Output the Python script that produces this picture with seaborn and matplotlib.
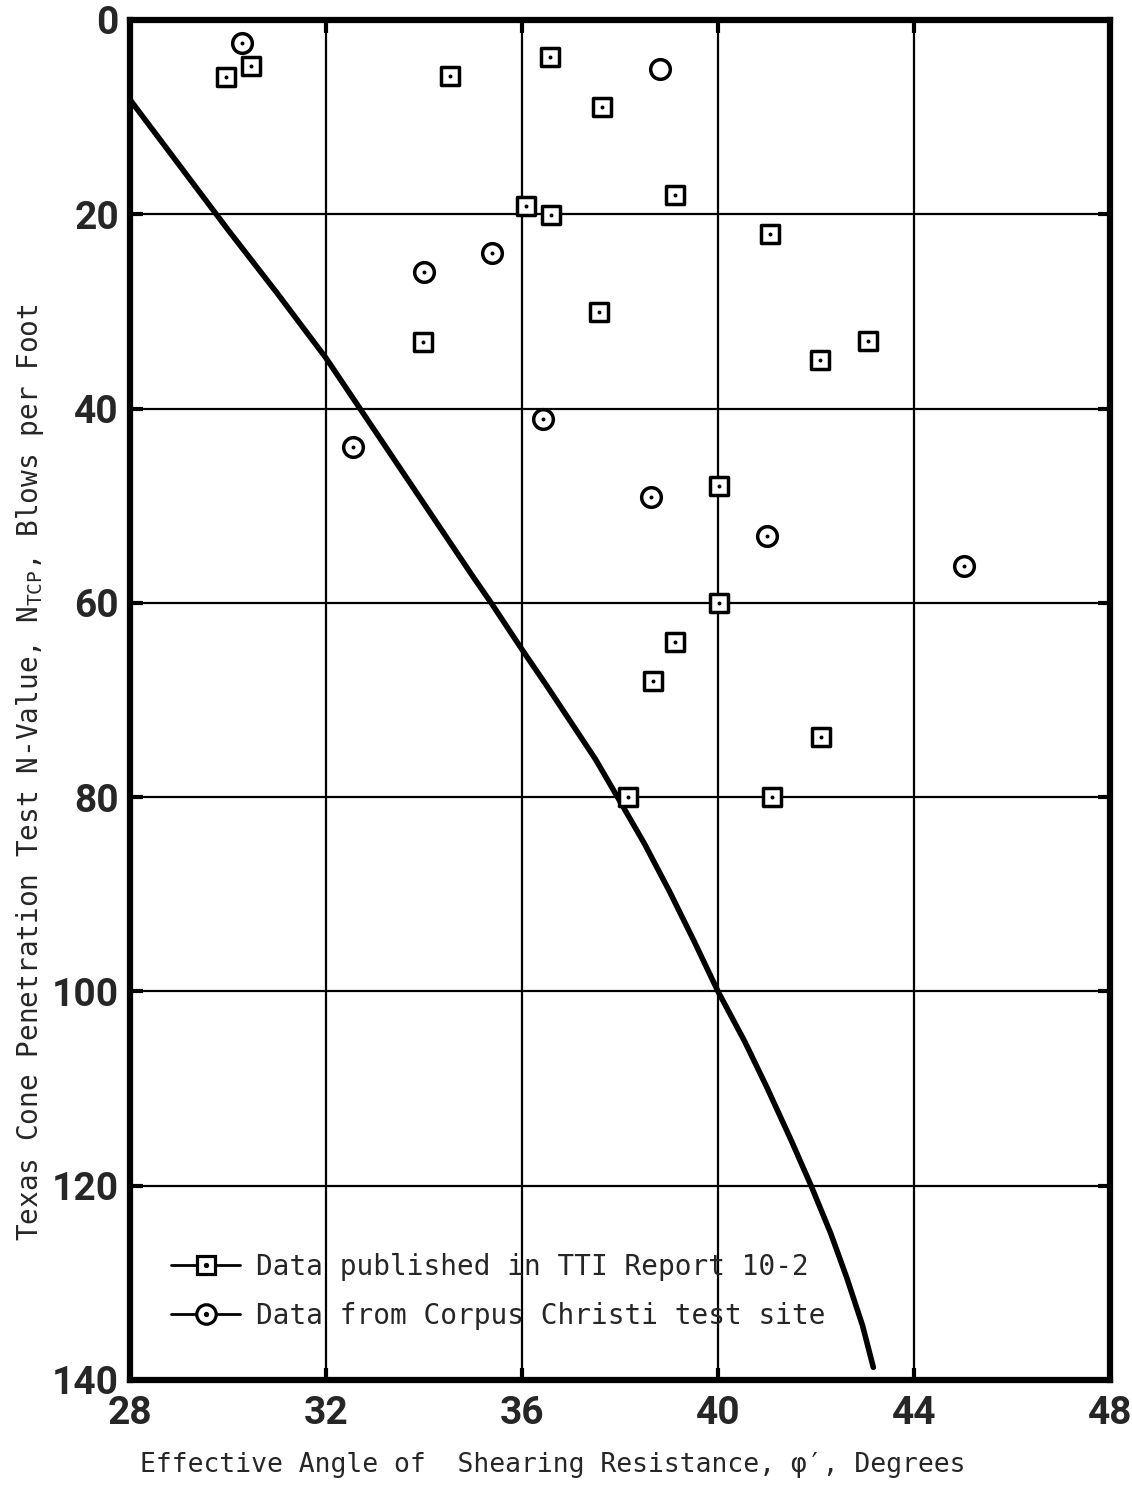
import matplotlib
matplotlib.use("Agg")
import matplotlib.pyplot as plt
import seaborn as sns
import pandas as pd
from matplotlib.lines import Line2D
from matplotlib.legend_handler import HandlerTuple

# ---------------- data ----------------
tti_phi = [29.95, 30.46, 34.54, 36.58, 37.64, 39.12, 36.09, 36.6, 41.06, 33.97, 37.57,
           42.08, 43.06, 40.03, 40.02, 39.12, 38.67, 42.1, 38.16, 41.1]
tti_n = [5.9, 4.7, 5.8, 3.8, 9.0, 18.0, 19.1, 20.1, 22.0, 33.1, 30.1,
         35.0, 33.0, 48.0, 60.0, 64.0, 68.0, 73.8, 80.0, 80.0]

cc_phi = [30.29, 38.81, 33.99, 35.39, 36.43, 32.55, 38.64, 41.01, 45.03]
cc_n = [2.4, 5.0, 25.9, 24.0, 41.1, 44.0, 49.1, 53.1, 56.2]
cc_dot = [True, False, True, True, True, True, True, True, True]

curve_phi = [28.0, 29.0, 30.0, 31.0, 32.0, 33.0, 34.0, 35.0, 35.37, 36.0, 36.5, 37.0,
             37.5, 37.95, 38.5, 39.0, 39.5, 40.0, 40.55, 41.0, 41.5, 41.9, 42.3,
             42.63, 42.95, 43.17]
curve_n = [8.2, 14.9, 21.6, 28.1, 34.8, 42.3, 49.8, 57.3, 60.0, 64.8, 68.5, 72.3,
           76.1, 80.0, 84.8, 89.6, 94.7, 100.0, 105.2, 109.9, 115.4, 120.0, 124.9,
           129.5, 134.4, 138.7]

x_ticks = [28, 32, 36, 40, 44, 48]
y_ticks = [0, 20, 40, 60, 80, 100, 120, 140]

legend_labels = ["Data published in TTI Report 10-2",
                 "Data from Corpus Christi test site"]
xlabel = "Effective Angle of  Shearing Resistance, \u03c6\u2032, Degrees"
ylabel = r"Texas Cone Penetration Test N-Value, N$_{\mathtt{TCP}}$, Blows per Foot"

# ---------------- style ----------------
sns.set_style("white")
plt.rcParams["font.family"] = ["DejaVu Sans Mono", "DejaVu Sans"]
plt.rcParams["mathtext.fontset"] = "dejavusans"

tti = pd.DataFrame({"phi": tti_phi, "n": tti_n})
cc = pd.DataFrame({"phi": cc_phi, "n": cc_n, "dot": cc_dot})
curve = pd.DataFrame({"phi": curve_phi, "n": curve_n})

fig = plt.figure(figsize=(11.32, 14.85), dpi=100)
ax = fig.add_axes([130 / 1132, 1 - 1380 / 1485, 980 / 1132, 1360 / 1485])

# grid
ax.set_axisbelow(True)
ax.grid(True, color="black", linewidth=1.6)

# curve
sns.lineplot(data=curve, x="phi", y="n", sort=False, color="black", linewidth=4,
             ax=ax, zorder=3, estimator=None)

# markers
sns.scatterplot(data=tti, x="phi", y="n", marker="s", s=180, facecolor="white",
                edgecolor="black", linewidth=2.5, ax=ax, zorder=4)
sns.scatterplot(data=cc, x="phi", y="n", marker="o", s=200, facecolor="white",
                edgecolor="black", linewidth=2.5, ax=ax, zorder=4)
sns.scatterplot(data=tti, x="phi", y="n", marker="o", s=8, color="black",
                linewidth=0, ax=ax, zorder=5)
sns.scatterplot(data=cc[cc["dot"]], x="phi", y="n", marker="o", s=8, color="black",
                linewidth=0, ax=ax, zorder=5)

ax.set_xlim(28, 48)
ax.set_ylim(140, 0)
ax.set_xticks(x_ticks)
ax.set_yticks(y_ticks)

tick_font = dict(family=["Liberation Sans Narrow", "Roboto", "DejaVu Sans"],
                 weight="bold", size=28)
ax.set_xticklabels([str(t) for t in x_ticks], fontdict=tick_font)
ax.set_yticklabels([str(t) for t in y_ticks], fontdict=tick_font)
ax.tick_params(axis="both", direction="in", length=9, width=3, color="black",
               top=True, right=True, bottom=True, left=True, pad=8)
ax.tick_params(axis="x", pad=11)

for sp in ax.spines.values():
    sp.set_linewidth(4.5)
    sp.set_color("black")

ax.set_xlabel(xlabel, fontsize=19, family=["DejaVu Sans Mono", "DejaVu Sans"],
              va="center")
ax.xaxis.set_label_coords((553 - 130) / 980, -(1465 - 1380) / 1360)
ax.set_ylabel(ylabel, fontsize=20, family=["DejaVu Sans Mono", "DejaVu Sans"],
              va="center")
ax.yaxis.set_label_coords((30 - 130) / 980, (1380 - 772) / 1360)

# legend with proxy handles (line through marker, dot in center)
h1 = (Line2D([0], [0], color="black", linewidth=2.0, marker="s", markersize=13,
             markerfacecolor="white", markeredgecolor="black", markeredgewidth=2.3),
      Line2D([0], [0], linestyle="none", marker="o", markersize=2.8, color="black"))
h2 = (Line2D([0], [0], color="black", linewidth=2.0, marker="o", markersize=14,
             markerfacecolor="white", markeredgecolor="black", markeredgewidth=2.3),
      Line2D([0], [0], linestyle="none", marker="o", markersize=2.8, color="black"))
leg = ax.legend([h1, h2], legend_labels, loc="upper left",
                bbox_to_anchor=((146 - 130) / 980, (1380 - 1228) / 1360),
                frameon=False, handlelength=2.5, handletextpad=0.55,
                labelspacing=0.75, prop={"family": "DejaVu Sans Mono", "size": 20},
                handler_map={tuple: HandlerTuple(ndivide=1, pad=0)})
leg.set_zorder(10)

fig.savefig("out.png", dpi=100, facecolor="white")
